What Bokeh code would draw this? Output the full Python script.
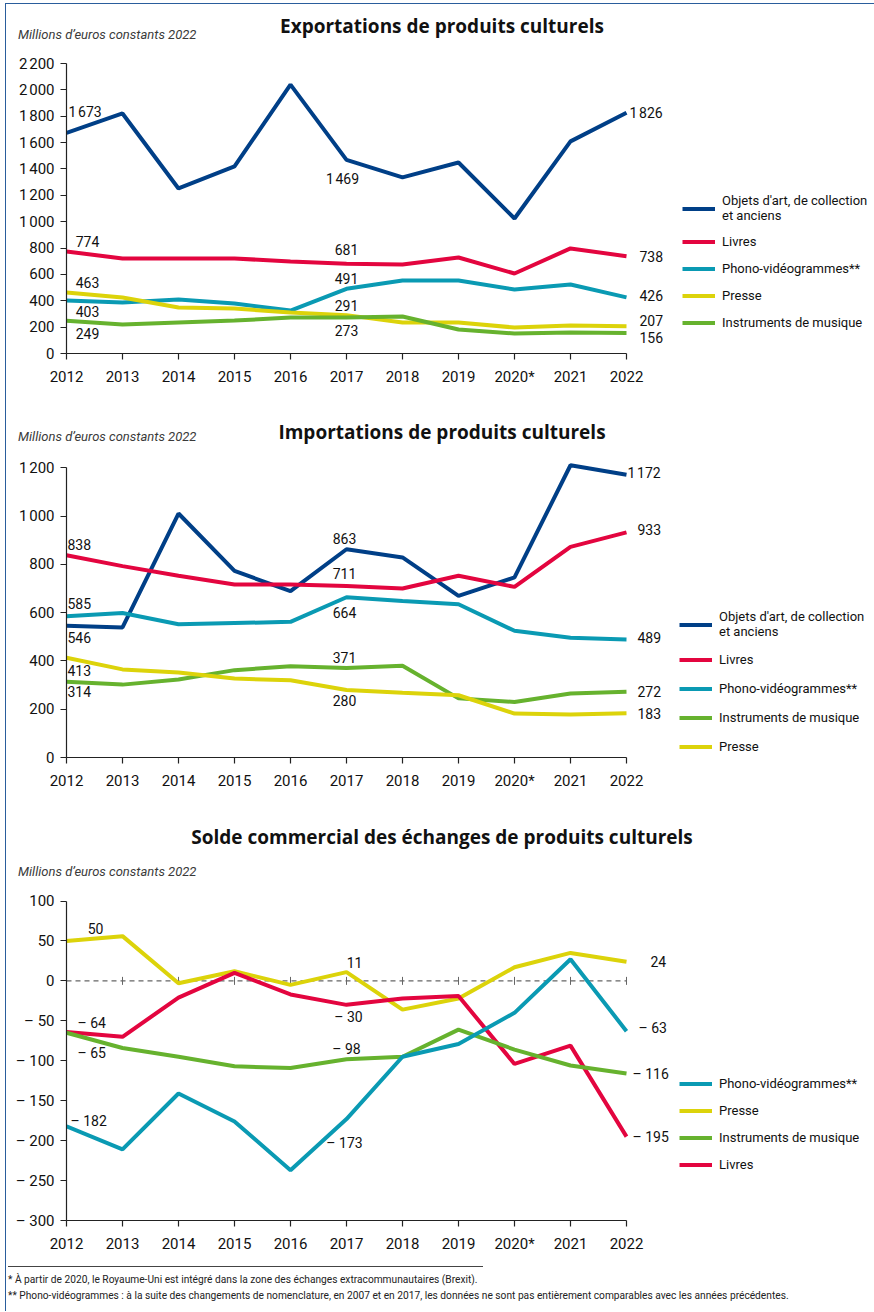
from bokeh.plotting import figure
from bokeh.models import (Range1d, FixedTicker, CustomJSTickFormatter, Label,
                          Legend, LegendItem, Div)
from bokeh.layouts import column
from bokeh.embed import file_html
from bokeh.resources import INLINE

# ---------------- data ----------------
years = [2012, 2013, 2014, 2015, 2016, 2017, 2018, 2019, 2020, 2021, 2022]
year_overrides = {2020: "2020*"}

exp_objets = [1673, 1821, 1252, 1419, 2040, 1469, 1336, 1449, 1024, 1609, 1826]
exp_livres = [774, 721, 721, 721, 698, 681, 675, 728, 607, 797, 738]
exp_phono = [403, 387, 410, 379, 326, 491, 554, 554, 485, 523, 426]
exp_presse = [463, 425, 349, 341, 311, 291, 235, 235, 197, 213, 207]
exp_instr = [249, 220, 235, 250, 273, 273, 281, 182, 152, 159, 156]

imp_objets = [546, 539, 1011, 773, 689, 863, 829, 670, 746, 1211, 1172]
imp_livres = [838, 793, 753, 717, 717, 711, 700, 753, 707, 873, 933]
imp_phono = [585, 599, 552, 557, 562, 664, 648, 635, 525, 496, 489]
imp_instr = [314, 302, 323, 362, 378, 371, 380, 245, 230, 265, 272]
imp_presse = [413, 365, 352, 327, 320, 280, 268, 258, 182, 178, 183]

bal_phono = [-182, -211, -141, -176, -237, -173, -95, -79, -40, 27, -63]
bal_presse = [50, 56, -3, 12, -5, 11, -36, -22, 17, 35, 24]
bal_instr = [-65, -84, -95, -107, -109, -98, -95, -61, -86, -106, -116]
bal_livres = [-64, -70, -21, 10, -17, -30, -22, -19, -104, -81, -195]

exp_ticks = [0, 200, 400, 600, 800, 1000, 1200, 1400, 1600, 1800, 2000, 2200]
imp_ticks = [0, 200, 400, 600, 800, 1000, 1200]
bal_ticks = [-300, -250, -200, -150, -100, -50, 0, 50, 100]

name_objets = "Objets d'art, de collection\net anciens"
name_livres = "Livres"
name_phono = "Phono-vidéogrammes**"
name_presse = "Presse"
name_instr = "Instruments de musique"

title_exp = "Exportations de produits culturels"
title_imp = "Importations de produits culturels"
title_bal = "Solde commercial des échanges de produits culturels"
unit_text = "Millions d\u2019euros constants 2022"
note1 = "* À partir de 2020, le Royaume-Uni est intégré dans la zone des échanges extracommunautaires (Brexit)."
note2 = ("** Phono-vidéogrammes : à la suite des changements de nomenclature, en 2007 et en 2017, "
         "les données ne sont pas entièrement comparables avec les années précédentes.")

# ---------------- style ----------------
C_BLUE = "#003f87"
C_RED = "#e3053f"
C_TEAL = "#0a9ab3"
C_YELLOW = "#dcd30a"
C_GREEN = "#66b22e"
C_FRAME = "#2a5d9c"

FONT = "Roboto"
LW = 4
W = 874
LEFT = 66
PX_PER_YEAR = 56.0


def fmt(v):
    s = str(abs(v))
    if len(s) > 3:
        s = s[:-3] + "\u202f" + s[-3:]
    return ("\u2013 " + s) if v < 0 else s


tick_fmt = CustomJSTickFormatter(code="""
const a = Math.abs(tick); let s = a.toString();
if (a >= 1000) { s = s.slice(0, -3) + "\\u202f" + s.slice(-3); }
return (tick < 0 ? "\\u2013 " : "") + s;
""")


def header(title, h, title_y, unit_y):
    html = (
        f'<div style="position:relative;width:{W}px;height:{h}px;">'
        f'<div style="position:absolute;left:442px;top:{title_y}px;transform:translate(-50%,-50%);'
        f'white-space:nowrap;font-family:\'Open Sans\';font-weight:bold;font-size:19px;color:#111;">{title}</div>'
        f'<div style="position:absolute;left:18px;top:{unit_y}px;transform:translateY(-50%);'
        f'white-space:nowrap;font-family:Roboto;font-style:italic;font-size:13px;color:#3a3a3a;">{unit_text}</div>'
        f'</div>')
    return Div(text=html, width=W, height=h, margin=0)


def make_fig(height, bottom, y0, y1_axis, axis_px, ticks):
    frame_h = height - bottom
    frame_w = W - LEFT
    y_end = y0 + (y1_axis - y0) * frame_h / axis_px
    p = figure(width=W, height=height, output_backend="svg", toolbar_location=None,
               x_range=Range1d(years[0], years[0] + frame_w / PX_PER_YEAR),
               y_range=Range1d(y0, y_end),
               min_border_left=LEFT, min_border_right=0, min_border_top=0,
               min_border_bottom=bottom, margin=0)
    p.title.visible = False
    p.outline_line_color = None
    p.grid.visible = False
    p.background_fill_color = None
    p.border_fill_color = None
    for ax in (p.xaxis[0], p.yaxis[0]):
        ax.axis_line_color = "#222222"
        ax.axis_line_width = 1.2
        ax.major_tick_line_color = "#222222"
        ax.major_tick_line_width = 1.2
        ax.major_tick_in = 0
        ax.major_tick_out = 6
        ax.minor_tick_line_color = None
        ax.major_label_text_font = FONT
        ax.major_label_text_font_size = "15px"
        ax.major_label_text_color = "#111111"
    p.xaxis.bounds = (years[0], years[-1])
    p.xaxis.ticker = FixedTicker(ticks=years)
    p.xaxis.major_label_overrides = year_overrides
    p.xaxis.major_label_standoff = 8
    p.yaxis.bounds = (ticks[0], ticks[-1])
    p.yaxis.ticker = FixedTicker(ticks=ticks)
    p.yaxis.formatter = tick_fmt
    p.yaxis.major_label_standoff = 6
    return p


def add_value_labels(p, specs):
    for series, i, align, dx, dy in specs:
        p.add_layout(Label(x=years[i], y=series[i], text=fmt(series[i]),
                           x_offset=dx, y_offset=dy, text_align=align, text_baseline="middle",
                           text_font=FONT, text_font_size="14px", text_color="#111111"))


def add_legend(p, entries, x, y, spacing):
    items = [LegendItem(label=lab, renderers=[r]) for lab, r in entries]
    lg = Legend(items=items, location=(x, y), orientation="vertical",
                glyph_width=33, glyph_height=17, label_height=17, spacing=spacing,
                label_standoff=7, padding=0, margin=0,
                label_text_font=FONT, label_text_font_size="13px",
                label_text_color="#111111", label_text_line_height=1.5,
                border_line_alpha=0, background_fill_alpha=0)
    p.add_layout(lg)


# ---------------- chart 1 : exports ----------------
h1 = header(title_exp, 48, 27, 35)
p1 = make_fig(352, 47, 0, 2200, 290.0, exp_ticks)
r1_obj = p1.line(years, exp_objets, line_color=C_BLUE, line_width=LW)
r1_liv = p1.line(years, exp_livres, line_color=C_RED, line_width=LW)
r1_pho = p1.line(years, exp_phono, line_color=C_TEAL, line_width=LW)
r1_pre = p1.line(years, exp_presse, line_color=C_YELLOW, line_width=LW)
r1_ins = p1.line(years, exp_instr, line_color=C_GREEN, line_width=LW)
add_value_labels(p1, [
    (exp_objets, 0, "left", 2, 21), (exp_objets, 5, "center", -4, -19), (exp_objets, 10, "left", 3, 0),
    (exp_livres, 0, "center", 21, 10), (exp_livres, 5, "center", 0, 14), (exp_livres, 10, "left", 13, 0),
    (exp_phono, 0, "center", 21, -11), (exp_phono, 5, "center", 0, 10), (exp_phono, 10, "left", 13, 2),
    (exp_presse, 0, "center", 21, 10), (exp_presse, 5, "center", 0, 10), (exp_presse, 10, "left", 13, 6),
    (exp_instr, 0, "center", 21, -13), (exp_instr, 5, "center", 0, -13), (exp_instr, 10, "left", 13, -5),
])
add_legend(p1, [(name_objets, r1_obj), (name_livres, r1_liv), (name_phono, r1_pho),
                (name_presse, r1_pre), (name_instr, r1_ins)], 616, 22, 10)

# ---------------- chart 2 : imports ----------------
h2 = header(title_imp, 48, 33, 37)
p2 = make_fig(352, 43, 0, 1200, 289.6, imp_ticks)
r2_obj = p2.line(years, imp_objets, line_color=C_BLUE, line_width=LW)
r2_liv = p2.line(years, imp_livres, line_color=C_RED, line_width=LW)
r2_pho = p2.line(years, imp_phono, line_color=C_TEAL, line_width=LW)
r2_ins = p2.line(years, imp_instr, line_color=C_GREEN, line_width=LW)
r2_pre = p2.line(years, imp_presse, line_color=C_YELLOW, line_width=LW)
add_value_labels(p2, [
    (imp_objets, 0, "left", 1, -12), (imp_objets, 5, "center", -2, 11), (imp_objets, 10, "left", 1, 2),
    (imp_livres, 0, "left", 1, 11), (imp_livres, 5, "center", -2, 12), (imp_livres, 10, "left", 11, 3),
    (imp_phono, 0, "left", 1, 13), (imp_phono, 5, "center", -2, -15), (imp_phono, 10, "left", 11, 2),
    (imp_instr, 0, "left", 1, -10), (imp_instr, 5, "center", -2, 10), (imp_instr, 10, "left", 11, 0),
    (imp_presse, 0, "left", 1, -13), (imp_presse, 5, "center", -2, -11), (imp_presse, 10, "left", 11, 0),
])
add_legend(p2, [(name_objets, r2_obj), (name_livres, r2_liv), (name_phono, r2_pho),
                (name_instr, r2_ins), (name_presse, r2_pre)], 613, 2, 12)

# ---------------- chart 3 : balance ----------------
h3 = header(title_bal, 85, 38, 72)
p3 = make_fig(370, 33, -300, 100, 321.4, bal_ticks)
p3.line([years[0], years[-1]], [0, 0], line_color="#666666", line_width=1.2, line_dash="5 4")
p3.segment(x0=years[1:], y0=[-5] * 10, x1=years[1:], y1=[5] * 10, line_color="#666666", line_width=1)
r3_pre = p3.line(years, bal_presse, line_color=C_YELLOW, line_width=LW)
r3_liv = p3.line(years, bal_livres, line_color=C_RED, line_width=LW)
r3_ins = p3.line(years, bal_instr, line_color=C_GREEN, line_width=LW)
r3_pho = p3.line(years, bal_phono, line_color=C_TEAL, line_width=LW)
add_value_labels(p3, [
    (bal_presse, 0, "center", 29, 12), (bal_presse, 5, "center", 8, 10), (bal_presse, 10, "left", 24, 0),
    (bal_livres, 0, "left", 11, 9), (bal_livres, 5, "center", 2, -12), (bal_livres, 10, "left", 6, 0),
    (bal_instr, 0, "left", 11, -20), (bal_instr, 5, "center", 0, 10), (bal_instr, 10, "left", 6, 0),
    (bal_phono, 0, "left", 4, 5), (bal_phono, 5, "center", -2, -24), (bal_phono, 10, "left", 12, 3),
])
add_legend(p3, [(name_phono, r3_pho), (name_presse, r3_pre), (name_instr, r3_ins),
                (name_livres, r3_liv)], 613, 47, 10)

notes = Div(text=(
    '<div style="border-top:1px solid #444;width:475px;margin-top:11px;margin-left:8px;"></div>'
    '<div style="font-family:Roboto;font-size:10.2px;color:#222;white-space:nowrap;'
    'line-height:16px;margin-top:5px;margin-left:8px;">' + note1 + '<br>' + note2 + '</div>'),
    width=W, height=56, margin=0)

frame_bg = (f"linear-gradient({C_FRAME},{C_FRAME}) 5px 3px / 1.3px calc(100% - 3px) no-repeat, "
            f"linear-gradient({C_FRAME},{C_FRAME}) 5px 3px / calc(100% - 5px) 1.3px no-repeat, white")
layout = column(h1, p1, h2, p2, h3, p3, notes, spacing=0, styles={"background": frame_bg})
open("out.html", "w").write(file_html(layout, INLINE))
